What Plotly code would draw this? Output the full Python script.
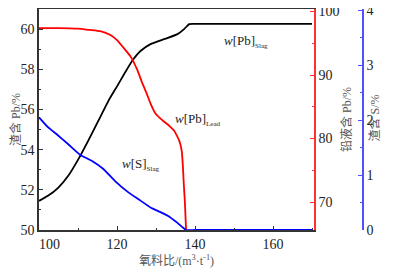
import plotly.graph_objects as go

# Black: w[Pb]Slag (left axis, %)
x_slag_pb = [100, 102.3, 104.9, 107.5, 110.1, 112.6, 115.2, 117.8, 120, 121.8, 123.9, 126.1, 128.6, 132.1, 135.5, 137.2, 138.5, 140, 150, 160, 170]
y_slag_pb = [51.45, 51.7, 52.1, 52.7, 53.53, 54.44, 55.43, 56.43, 57.15, 57.75, 58.42, 58.92, 59.25, 59.5, 59.75, 60.0, 60.25, 60.26, 60.26, 60.26, 60.26]

# Red: w[Pb]Lead (middle axis, %)
x_lead_pb = [100, 105, 110, 113, 115.7, 118.3, 120, 121.8, 123.5, 125.2, 126.5, 127.4, 128.6, 129.9, 131.6, 133.4, 134.7, 136, 136.6, 136.9, 137.1, 137.4, 137.7]
y_lead_pb = [97.4, 97.4, 97.3, 97.1, 96.9, 96.3, 95.5, 94.2, 92.9, 90.8, 88.7, 87.4, 85.5, 83.9, 82.9, 82.0, 81.2, 79.6, 78.0, 75.5, 73.0, 70.0, 65.6]

# Blue: w[S]Slag (right axis, %)
x_slag_s = [100, 102.3, 104.9, 107.5, 110.5, 113.5, 116.5, 119.5, 123, 125.5, 128.6, 131, 133, 135.5, 137.7, 140, 170]
y_slag_s = [2.05, 1.87, 1.72, 1.56, 1.37, 1.26, 1.11, 0.89, 0.68, 0.56, 0.41, 0.33, 0.26, 0.13, 0.0, 0.0, 0.0]

x_ticks = [100, 120, 140, 160]
x_ticktext = ["\u00a0\u00a0\u00a0\u00a0\u00a0\u00a0100", "120", "140", "160"]
y1_ticks = [50, 52, 54, 56, 58, 60]
y2_ticks = [70, 80, 90, 100]
y3_ticks = [0, 1, 2, 3, 4]

SERIF = "Liberation Serif, Times New Roman, serif"
CJK = "Liberation Serif, Noto Sans CJK SC, serif"

# page body has an 8px default margin, so the figure is sized to fit in the rest
W, H = 388, 264
ML, MR, MT, MB = 31, 33, 1, 42

fig = go.Figure()
fig.add_trace(go.Scatter(x=x_slag_pb, y=y_slag_pb, mode="lines", line=dict(color="black", width=1.8, shape="spline", smoothing=0.4), yaxis="y"))
fig.add_trace(go.Scatter(x=x_lead_pb, y=y_lead_pb, mode="lines", line=dict(color="#ff0000", width=1.8, shape="spline", smoothing=0.4), yaxis="y2"))
fig.add_trace(go.Scatter(x=x_slag_s, y=y_slag_s, mode="lines", line=dict(color="#0000ff", width=1.8, shape="spline", smoothing=0.4), yaxis="y3"))

dom_end = (314 - 39) / (363 - 39)

fig.update_layout(
    width=W, height=H,
    margin=dict(l=ML, r=MR, t=MT, b=MB, autoexpand=False),
    paper_bgcolor="white", plot_bgcolor="white",
    showlegend=False,
    font=dict(family=SERIF, size=14, color="#222"),
    xaxis=dict(
        domain=[0, dom_end], range=[100, 170.5], automargin=False,
        tickvals=x_ticks, ticktext=x_ticktext,
        ticks="inside", ticklen=4, tickcolor="#333",
        minor=dict(dtick=10, ticks="inside", ticklen=2, tickcolor="#333"),
        showline=True, linecolor="#333", linewidth=1.5, mirror=True,
        showgrid=False, zeroline=False,
        tickfont=dict(family=SERIF, size=14, color="#222"),
        title=dict(text="氧料比/(m<sup>3</sup>·t<sup>-1</sup>)", font=dict(family=CJK, size=12, color="#555"), standoff=6),
    ),
    yaxis=dict(
        range=[50, 61], tickvals=y1_ticks, automargin=False, ticklabeloverflow="allow",
        ticks="inside", ticklen=4, tickcolor="#333",
        minor=dict(dtick=1, ticks="inside", ticklen=2, tickcolor="#333"),
        showline=True, linecolor="#333", linewidth=1.5,
        showgrid=False, zeroline=False,
        tickfont=dict(family=SERIF, size=14, color="#222"),
        title=dict(text="渣含 Pb/%", font=dict(family=CJK, size=12, color="#555"), standoff=4),
    ),
    yaxis2=dict(
        range=[65.6, 100.4], tickvals=y2_ticks, overlaying="y", side="right", anchor="x", automargin=False,
        ticklabeloverflow="allow",
        ticks="inside", ticklen=4, tickcolor="#ff3030",
        minor=dict(dtick=5, ticks="inside", ticklen=2, tickcolor="#ff3030"),
        showline=True, linecolor="#ff3030", linewidth=1.5,
        showgrid=False, zeroline=False,
        tickfont=dict(family=SERIF, size=14, color="#222"),
        title=dict(text="铅液含 Pb/%", font=dict(family=CJK, size=12, color="#555"), standoff=4),
    ),
    yaxis3=dict(
        range=[0, 4.02], tickvals=y3_ticks, overlaying="y", side="right", anchor="free", position=1.0, automargin=False,
        ticklabeloverflow="allow",
        ticks="inside", ticklen=4, tickcolor="#5050ff",
        minor=dict(dtick=0.5, ticks="inside", ticklen=2, tickcolor="#5050ff"),
        showline=True, linecolor="#5050ff", linewidth=1.5,
        showgrid=False, zeroline=False,
        tickfont=dict(family=SERIF, size=14, color="#222"),
    ),
)

# Blue axis title placed beside its tick labels
fig.add_annotation(x=1.0, xref="paper", xshift=20, y=1 - (110 - MT) / (H - MT - MB), yref="paper",
                   showarrow=False, textangle=-90, text="渣含 S/%",
                   font=dict(family=CJK, size=12, color="#555"))

ann_font = dict(family=SERIF, size=13, color="#222")
fig.add_annotation(x=146.9, y=59.4, xref="x", yref="y", xanchor="left", yanchor="middle", showarrow=False,
                   text="<i>w</i>[Pb]<sub><span style='font-size:7px'>Slag</span></sub>", font=ann_font)
fig.add_annotation(x=134.4, y=55.5, xref="x", yref="y", xanchor="left", yanchor="middle", showarrow=False,
                   text="<i>w</i>[Pb]<sub><span style='font-size:7px'>Lead</span></sub>", font=ann_font)
fig.add_annotation(x=120.8, y=53.27, xref="x", yref="y", xanchor="left", yanchor="middle", showarrow=False,
                   text="<i>w</i>[S]<sub><span style='font-size:7px'>Slag</span></sub>", font=ann_font)

fig.write_html("out.html")
